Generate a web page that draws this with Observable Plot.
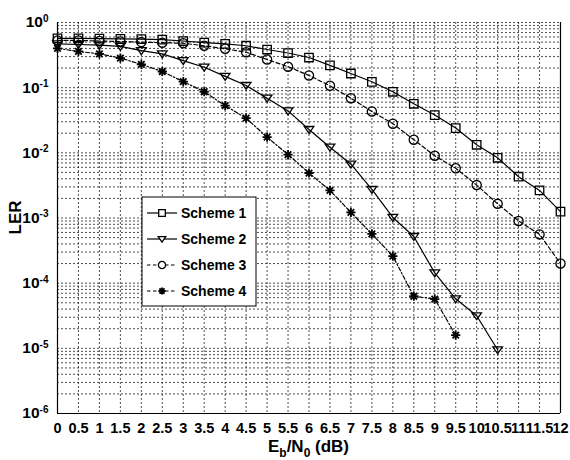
<!DOCTYPE html>
<html><head><meta charset="utf-8">
<script src="https://cdn.jsdelivr.net/npm/d3@7"></script>
<script src="https://cdn.jsdelivr.net/npm/@observablehq/plot@0.6"></script>
<style>body{margin:0;background:#fff;} #chart{width:570px;height:460px;}
svg g[aria-label="x-axis tick label"] text{font-size:14.5px !important;}
svg g[aria-label="y-axis tick label"] text{font-size:15.5px !important;}
</style>
</head><body><div id="chart"></div>
<script>
// ---- data ----
const ebn0 = [0,0.5,1,1.5,2,2.5,3,3.5,4,4.5,5,5.5,6,6.5,7,7.5,8,8.5,9,9.5,10,10.5,11,11.5,12];
const xTickLabels = ["0","0.5","1","1.5","2","2.5","3","3.5","4","4.5","5","5.5","6","6.5","7","7.5","8","8.5","9","9.5","10","10.5","11","11.5","12"];
const yTicks = [1e-6,1e-5,1e-4,1e-3,1e-2,1e-1,1];
const yTickExponents = ["-6","-5","-4","-3","-2","-1","0"];
const seriesNames = ["Scheme 1","Scheme 2","Scheme 3","Scheme 4"];
const scheme1 = [0.57,0.57,0.565,0.56,0.555,0.545,0.52,0.49,0.47,0.44,0.385,0.34,0.29,0.22,0.165,0.123,0.0865,0.0566,0.038,0.024,0.0133,0.0084,0.0043,0.00265,0.00125];
const scheme2 = [0.47,0.46,0.45,0.43,0.37,0.33,0.26,0.206,0.149,0.108,0.069,0.044,0.0228,0.0122,0.0067,0.00275,0.00102,0.00052,0.000144,0.0000576,0.0000316,0.0000095];
const scheme3 = [0.53,0.53,0.52,0.51,0.50,0.49,0.48,0.44,0.395,0.35,0.27,0.21,0.154,0.107,0.069,0.043,0.028,0.0159,0.009,0.0058,0.0032,0.00165,0.0009,0.00056,0.0002];
const scheme4 = [0.40,0.36,0.33,0.285,0.228,0.177,0.124,0.0866,0.053,0.034,0.0174,0.0094,0.0049,0.00265,0.00122,0.00057,0.00026,0.000063,0.000057,0.0000159];

const seriesValues = [scheme1, scheme2, scheme3, scheme4];
const rows = [];
seriesValues.forEach((vals, s) => vals.forEach((v, i) => rows.push({x: ebn0[i], y: v, scheme: seriesNames[s]})));

// ---- styles ----
const triangleDown = {draw(ctx, size){ const r = Math.sqrt(size/Math.PI); ctx.moveTo(-r*1.05,-r*0.65); ctx.lineTo(r*1.05,-r*0.65); ctx.lineTo(0,r*0.85); ctx.closePath(); }};
const starSym = {draw(ctx, size){ const r = Math.sqrt(size/Math.PI); for (let k=0;k<4;k++){ const a=k*Math.PI/4; ctx.moveTo(r*Math.cos(a), r*Math.sin(a)); ctx.lineTo(-r*Math.cos(a), -r*Math.sin(a)); } }};
const squareSym = {draw(ctx, size){ const r = Math.sqrt(size/Math.PI)*0.92; ctx.rect(-r,-r,2*r,2*r); }};
const circleSym = {draw(ctx, size){ const r = Math.sqrt(size/Math.PI); ctx.moveTo(r,0); ctx.arc(0,0,r,0,2*Math.PI); }};
const styles = {
  "Scheme 1": {dash: null, symbol: squareSym, r: 4.6, sw: 1.3},
  "Scheme 2": {dash: null, symbol: triangleDown, r: 4.6, sw: 1.3},
  "Scheme 3": {dash: "4,2.5", symbol: circleSym, r: 4.6, sw: 1.3},
  "Scheme 4": {dash: "4,2,1.5,2", symbol: starSym, r: 4.6, sw: 1.8}
};

const W = 570, H = 460, mL = 57, mR = 10, mT = 22, mB = 47;
const minorY = d3.scaleLog().domain([1e-6, 1]).ticks();
const gridStyle = {stroke: "#222", strokeOpacity: 1, strokeWidth: 0.8, strokeDasharray: "2,2"};

const marks = [
  Plot.ruleY(minorY, gridStyle),
  Plot.ruleX(ebn0, gridStyle),
  Plot.ruleX([0, 12], {stroke: "#000", strokeWidth: 1.2}),
  Plot.ruleY([1e-6], {stroke: "#000", strokeWidth: 1.2}),
  Plot.axisX({ticks: ebn0, tickFormat: (d) => xTickLabels[ebn0.indexOf(d)], tickSize: 0, tickPadding: 9, label: null}),
  Plot.axisY({ticks: yTicks, tickFormat: (d) => "10|" + yTickExponents[yTicks.indexOf(d)], tickSize: 0, tickPadding: 9, label: null})
];
seriesNames.forEach(name => {
  const st = styles[name];
  const data = rows.filter(d => d.scheme === name);
  marks.push(Plot.line(data, {x: "x", y: "y", stroke: "#000", strokeWidth: 1.2, strokeDasharray: st.dash}));
  marks.push(Plot.dot(data, {x: "x", y: "y", symbol: st.symbol, r: st.r, stroke: "#000", fill: "none", strokeWidth: st.sw}));
});

const chart = Plot.plot({
  width: W, height: H,
  marginLeft: mL, marginRight: mR, marginTop: mT, marginBottom: mB,
  style: {fontFamily: "'Liberation Sans', Arial, sans-serif", fontWeight: "bold", background: "#fff", color: "#000"},
  x: {domain: [0, 12]},
  y: {type: "log", domain: [1e-6, 1]},
  marks
});
document.getElementById("chart").appendChild(chart);

const svg = d3.select(chart);
svg.selectAll('[aria-label="x-axis tick label"] text').style("font-size", "14.5px");
svg.selectAll('[aria-label="y-axis tick label"] text').style("font-size", "15.5px");
// superscript y tick labels
svg.selectAll('[aria-label="y-axis tick label"] text').each(function(){
  const t = d3.select(this);
  const [base, exp] = t.text().split("|");
  t.text(base);
  t.append("tspan").attr("dy", "-0.55em").style("font-size", "10px").text(exp);
});

const cx = (mL + W - mR) / 2, cy = (mT + H - mB) / 2;
// x label
const xl = svg.append("text").attr("x", cx).attr("y", 452).attr("text-anchor", "middle")
  .style("font-size", "17px").attr("font-weight", "bold").attr("fill", "#000");
xl.append("tspan").text("E");
xl.append("tspan").style("font-size", "12px").attr("dy", 5).text("b");
xl.append("tspan").attr("dy", -5).text("/N");
xl.append("tspan").style("font-size", "12px").attr("dy", 5).text("0");
xl.append("tspan").attr("dy", -5).text(" (dB)");
// y label
svg.append("text").attr("transform", `translate(21,${cy}) rotate(-90)`).attr("text-anchor", "middle")
  .style("font-size", "17px").attr("font-weight", "bold").attr("fill", "#000").text("LER");

// legend
const lg = svg.append("g").attr("transform", "translate(142,197)");
lg.append("rect").attr("width", 114).attr("height", 109).attr("fill", "#fff").attr("stroke", "#000").attr("stroke-width", 1);
seriesNames.forEach((name, i) => {
  const st = styles[name];
  const y = 16 + i * 26;
  lg.append("line").attr("x1", 5).attr("x2", 35).attr("y1", y).attr("y2", y)
    .attr("stroke", "#000").attr("stroke-width", 1.2).attr("stroke-dasharray", st.dash ? "3.5,2.5" : null);
  const path = d3.path();
  st.symbol.draw(path, Math.PI * 3.6 * 3.6);
  lg.append("path").attr("d", path.toString()).attr("transform", `translate(20,${y})`)
    .attr("fill", "#fff").attr("stroke", "#000").attr("stroke-width", st.sw);
  lg.append("text").attr("x", 39).attr("y", y).attr("dy", "0.36em").style("font-size", "14px")
    .attr("text-anchor", "start").attr("font-weight", "bold").attr("fill", "#000").text(name);
});
</script>
</body></html>
